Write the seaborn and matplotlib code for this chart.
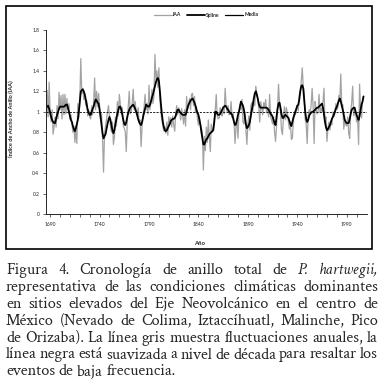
import numpy as np
import pandas as pd
import matplotlib
matplotlib.use("Agg")
import matplotlib.pyplot as plt
import seaborn as sns
from matplotlib.lines import Line2D
from matplotlib.patches import Rectangle

# Data (annual values 1685-2007)
first_year = 1685
iaa = [
    1.00, 0.87, 1.21, 0.95, 1.29, 0.98, 0.90, 1.02, 0.78, 0.86,   # 1685
    0.95, 0.85, 1.06, 0.93, 1.19, 1.02, 1.16, 0.93, 1.17, 0.97,   # 1695
    1.17, 0.98, 1.13, 1.02, 1.08, 0.93, 0.97, 0.88, 0.80, 0.86,   # 1705
    0.70, 0.84, 0.69, 1.08, 0.94, 1.10, 1.52, 1.18, 1.23, 1.12,   # 1715
    1.16, 1.06, 1.11, 0.96, 1.02, 0.95, 0.93, 1.06, 0.97, 1.10,   # 1725
    1.33, 1.02, 1.20, 1.05, 1.18, 1.06, 0.93, 0.98, 0.73, 0.41,   # 1735
    0.78, 0.86, 0.92, 1.00, 1.06, 0.96, 0.86, 0.80, 0.90, 0.68,   # 1745
    0.75, 0.95, 0.86, 1.10, 0.96, 1.17, 1.08, 0.98, 1.04, 0.86,   # 1755
    0.84, 0.80, 0.61, 0.90, 1.05, 1.20, 0.98, 1.00, 1.09, 1.22,   # 1765
    1.02, 1.10, 1.00, 0.96, 1.04, 0.90, 0.92, 0.66, 0.86, 0.98,   # 1775
    1.04, 1.17, 1.02, 1.08, 0.98, 1.26, 1.02, 1.10, 1.22, 1.08,   # 1785
    1.15, 1.56, 1.32, 1.40, 1.24, 1.43, 1.13, 1.00, 0.92, 0.86,   # 1795
    0.81, 0.85, 0.79, 0.90, 0.77, 0.95, 0.88, 0.94, 0.85, 0.96,   # 1805
    0.87, 0.81, 0.97, 1.06, 0.97, 1.04, 1.01, 0.92, 1.03, 0.96,   # 1815
    0.88, 1.02, 0.86, 1.15, 1.02, 1.07, 1.13, 1.02, 1.17, 1.18,   # 1825
    1.06, 1.15, 0.99, 1.05, 0.93, 0.87, 0.95, 0.88, 0.84, 0.80,   # 1835
    0.43, 0.76, 0.62, 0.85, 0.70, 0.92, 0.77, 0.61, 0.88, 0.80,   # 1845
    0.84, 0.92, 1.02, 1.17, 0.96, 0.93, 0.94, 1.04, 0.98, 0.96,   # 1855
    1.05, 0.98, 1.23, 1.07, 1.00, 1.06, 0.97, 0.98, 1.10, 0.94,   # 1865
    0.99, 0.90, 0.69, 0.85, 0.92, 0.74, 1.00, 1.07, 1.02, 1.12,   # 1875
    0.90, 0.88, 1.00, 0.83, 0.68, 0.88, 0.96, 0.82, 1.06, 1.09,   # 1885
    1.00, 1.11, 1.06, 1.25, 1.18, 1.12, 1.04, 0.90, 1.10, 1.04,   # 1895
    0.97, 1.09, 1.05, 1.12, 0.99, 1.02, 0.95, 1.17, 0.95, 0.92,   # 1905
    0.88, 0.95, 0.80, 0.71, 0.86, 1.03, 1.27, 1.07, 1.00, 0.82,   # 1915
    0.78, 0.95, 1.05, 0.92, 1.04, 0.98, 0.90, 0.83, 0.90, 0.73,   # 1925
    0.74, 0.90, 1.00, 0.97, 1.02, 1.06, 1.01, 1.16, 1.20, 1.30,   # 1935
    1.43, 1.25, 1.17, 0.92, 0.88, 0.69, 0.96, 1.02, 0.98, 1.07,   # 1945
    1.23, 1.05, 0.69, 1.10, 1.02, 0.98, 1.00, 1.17, 0.99, 1.04,   # 1955
    1.00, 1.10, 1.23, 0.90, 0.95, 0.71, 0.84, 0.90, 0.82, 0.91,   # 1965
    0.87, 1.00, 0.95, 0.99, 1.08, 1.02, 1.04, 1.16, 1.10, 1.37,   # 1975
    1.05, 1.07, 0.83, 0.92, 0.87, 0.86, 0.95, 0.79, 0.74, 1.00,   # 1985
    1.09, 1.25, 0.96, 1.03, 0.98, 0.90, 0.93, 0.68, 1.27, 1.02,   # 1995
    0.94, 1.12, 1.15,                                             # 2005
]
spline = [
    1.02, 1.04, 1.05, 1.06, 1.03, 0.99, 0.95, 0.92, 0.90, 0.89,
    0.89, 0.93, 0.97, 1.00, 1.03, 1.05, 1.05, 1.05, 1.05, 1.05,
    1.06, 1.07, 1.07, 1.04, 1.00, 0.96, 0.92, 0.90, 0.86, 0.83,
    0.81, 0.84, 0.88, 0.92, 1.00, 1.10, 1.20, 1.21, 1.22, 1.20,
    1.17, 1.12, 1.07, 1.02, 0.99, 0.97, 0.97, 1.00, 1.03, 1.05,
    1.09, 1.12, 1.11, 1.09, 1.08, 1.02, 0.95, 0.87, 0.79, 0.74,
    0.76, 0.78, 0.83, 0.88, 0.92, 0.95, 0.92, 0.87, 0.82, 0.79,
    0.82, 0.88, 0.93, 0.98, 1.02, 1.05, 1.05, 1.02, 0.97, 0.92,
    0.88, 0.87, 0.90, 0.95, 0.99, 1.02, 1.04, 1.05, 1.06, 1.07,
    1.05, 1.03, 1.00, 0.97, 0.93, 0.90, 0.88, 0.87, 0.90, 0.95,
    0.99, 1.03, 1.07, 1.06, 1.05, 1.05, 1.07, 1.10, 1.14, 1.17,
    1.21, 1.25, 1.29, 1.32, 1.33, 1.30, 1.20, 1.08, 0.98, 0.90,
    0.85, 0.82, 0.81, 0.82, 0.84, 0.86, 0.88, 0.91, 0.92, 0.93,
    0.93, 0.94, 0.96, 1.00, 1.02, 1.02, 1.00, 0.99, 0.98, 0.97,
    0.97, 0.97, 0.97, 1.00, 1.04, 1.07, 1.09, 1.11, 1.12, 1.13,
    1.11, 1.09, 1.06, 1.02, 0.99, 0.97, 0.92, 0.87, 0.80, 0.74,
    0.68, 0.68, 0.71, 0.73, 0.74, 0.76, 0.78, 0.79, 0.80, 0.81,
    0.82, 0.90, 1.00, 1.00, 0.98, 0.97, 0.97, 0.98, 1.00, 1.02,
    1.04, 1.05, 1.06, 1.05, 1.03, 1.02, 1.00, 0.99, 0.98, 0.97,
    0.94, 0.90, 0.87, 0.88, 0.92, 0.97, 1.00, 1.05, 1.10, 1.08,
    1.06, 1.02, 0.95, 0.88, 0.84, 0.85, 0.87, 0.90, 0.96, 1.02,
    1.07, 1.13, 1.18, 1.20, 1.17, 1.13, 1.08, 1.05, 1.04, 1.04,
    1.04, 1.04, 1.04, 1.04, 1.04, 1.03, 1.02, 1.00, 0.98, 0.97,
    0.95, 0.92, 0.89, 0.87, 0.95, 1.03, 1.08, 1.09, 1.04, 0.98,
    0.94, 0.94, 0.96, 0.97, 0.96, 0.95, 0.94, 0.91, 0.88, 0.86,
    0.90, 0.94, 0.97, 1.00, 1.03, 1.06, 1.07, 1.12, 1.20, 1.25,
    1.26, 1.23, 1.12, 1.00, 0.93, 0.90, 0.92, 0.96, 0.98, 0.99,
    1.00, 1.00, 1.01, 1.02, 1.03, 1.04, 1.04, 1.05, 1.06, 1.07,
    1.08, 1.04, 0.97, 0.90, 0.85, 0.82, 0.83, 0.85, 0.87, 0.90,
    0.93, 0.95, 0.97, 1.00, 1.03, 1.05, 1.08, 1.11, 1.13, 1.10,
    1.06, 1.02, 0.97, 0.92, 0.90, 0.89, 0.89, 0.89, 0.93, 0.98,
    1.02, 1.03, 1.04, 1.04, 1.00, 0.97, 0.94, 0.92, 0.96, 1.02,
    1.07, 1.10, 1.15,
]
media = 1.0
years = list(range(first_year, first_year + len(iaa)))

xticks = [1690, 1740, 1790, 1840, 1890, 1940, 1990]
yticks = [0, 0.2, 0.4, 0.6, 0.8, 1, 1.2, 1.4, 1.6, 1.8]
ytick_labels = ["0", "0.2", "0.4", "0.6", "0.8", "1", "1.2", "1.4", "1.6", "1.8"]

caption_lines = [
    "Figura 4. Cronología de anillo total de P. hartwegii,",
    "representativa de las condiciones climáticas dominantes",
    "en sitios elevados del Eje Neovolcánico en el centro de",
    "México (Nevado de Colima, Iztaccíhuatl, Malinche, Pico",
    "de Orizaba). La línea gris muestra fluctuaciones anuales, la",
    "línea negra está suavizada a nivel de década para resaltar los",
    "eventos de baja frecuencia.",
]
italic_words = {"P.", "hartwegii,"}

df = pd.DataFrame({"Año": years, "IAA": iaa, "Spline": spline})

sns.set_style("ticks")
plt.rcParams["font.family"] = ["Lato", "DejaVu Sans"]

W, H = 385, 384
fig = plt.figure(figsize=(W / 100, H / 100), dpi=100)

# chart frame
fig.add_artist(Rectangle((6.5 / W, 1 - 249 / H), (372 - 6.5) / W, (249 - 6) / H,
                         transform=fig.transFigure, fill=False, ec="black", lw=1.2))

ax = fig.add_axes([45.6 / W, 1 - 214 / H, (367 - 45.6) / W, (214 - 30) / H])
sns.lineplot(data=df, x="Año", y="IAA", ax=ax, color="#a3a3a3", lw=0.9)
sns.lineplot(data=df, x="Año", y="Spline", ax=ax, color="black", lw=1.3)
ax.axhline(media, color="black", lw=0.6, ls=(0, (2.5, 1.5)))

ax.set_xlim(1685.4, 2010.5)
ax.set_ylim(0, 1.8)
ax.set_xticks(xticks)
ax.set_xticks(range(1690, 2010, 10), minor=True)
ax.set_yticks(yticks)
ax.set_yticklabels(ytick_labels)
ax.tick_params(axis="both", which="both", length=2, width=0.5, labelsize=3.6, pad=2.5)
ax.tick_params(axis="x", pad=4)
for s in ["top", "right"]:
    ax.spines[s].set_visible(False)
for s in ["left", "bottom"]:
    ax.spines[s].set_linewidth(0.7)

ax.set_xlabel("Año", fontsize=4.2, fontweight="bold")
ax.set_ylabel("Índice de Ancho de Anillo (IAA)", fontsize=4.0, fontweight="bold")
ax.xaxis.set_label_coords(0.48, -0.145)
ax.yaxis.set_label_coords(-0.098, 0.52)

handles = [
    Line2D([], [], color="#a3a3a3", lw=0.9),
    Line2D([], [], color="black", lw=1.3),
    Line2D([], [], color="black", lw=0.9),
]
fig.legend(handles, ["IAA", "Spline", "Media"], loc="center", bbox_to_anchor=(0.535, 1 - 15 / H),
           ncol=3, frameon=False, handlelength=3.6, handletextpad=0.2,
           columnspacing=1.2, prop={"weight": "bold", "size": 3.6})

# caption, justified line by line
renderer = fig.canvas.get_renderer()
left_px, right_px = 6, 378
serif = ["Crimson Text", "Liberation Serif", "DejaVu Serif"]


def text_width(s, size, style="normal"):
    t = fig.text(0, 0, s, fontsize=size, family=serif, style=style)
    w = t.get_window_extent(renderer).width
    t.remove()
    return w


# size the caption so the longest line just fills the column
longest = max(text_width(l, 10) for l in caption_lines[:-1])
cap_fs = 10 * (right_px - left_px - 1) / longest

space_w = text_width("a b", cap_fs) - text_width("ab", cap_fs)
for i, line in enumerate(caption_lines):
    words = line.split(" ")
    styles = ["italic" if w in italic_words else "normal" for w in words]
    widths = [text_width(w, cap_fs, s) for w, s in zip(words, styles)]
    if i < len(caption_lines) - 1:
        gap = (right_px - left_px - sum(widths)) / (len(words) - 1)
    else:
        gap = space_w
    y = 1 - (274 + 16.9 * i) / H
    x = left_px
    for w, s, wd in zip(words, styles, widths):
        fig.text(x / W, y, w, fontsize=cap_fs, family=serif, style=s, va="baseline", ha="left")
        x += wd + gap

fig.savefig("out.png", dpi=100)
